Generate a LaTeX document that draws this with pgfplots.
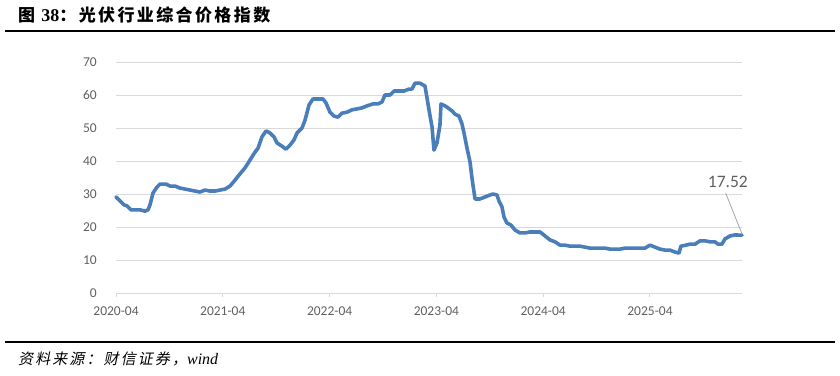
\documentclass[border=0pt]{standalone}
\usepackage{fontspec}
\usepackage{pgfplots}
\pgfplotsset{compat=1.18}
\setmainfont{Carlito}
\newfontfamily\titlefont{Noto Sans CJK SC}[LetterSpace=14]
\newfontfamily\srcfont{Noto Sans CJK SC}[FakeSlant=0.2, LetterSpace=14]
\newfontfamily\serif{Liberation Serif}
\definecolor{lineblue}{RGB}{74,126,187}
\definecolor{gridgrey}{RGB}{217,217,217}
\definecolor{ticktext}{RGB}{95,95,95}
\pgfplotstableread{
m v
0 29.1
0.45 27.9
0.9 26.7
1.24 26.4
1.69 25.2
2.70 25.2
3.26 24.8
3.60 25.2
3.82 26.7
4.16 30.3
4.61 32.1
4.94 33.0
5.62 33.0
6.07 32.4
6.63 32.4
7.19 31.8
8.31 31.2
9.44 30.6
10.0 31.2
10.56 30.9
11.12 30.9
11.69 31.2
12.25 31.5
12.81 32.4
13.37 34.2
13.93 36.1
14.49 37.9
15.06 40.3
15.62 42.7
15.96 43.9
16.40 47.3
16.85 49.1
17.30 48.5
17.75 47.3
18.09 45.5
18.65 44.5
19.10 43.6
19.55 44.8
20.0 46.4
20.34 48.5
20.90 50.0
21.24 52.4
21.69 57.0
22.13 58.8
22.58 58.8
23.26 58.8
23.60 57.6
24.04 54.8
24.49 53.6
24.94 53.3
25.39 54.5
25.96 54.8
26.52 55.5
27.08 55.8
27.64 56.1
28.20 56.7
28.88 57.3
29.44 57.3
29.89 57.9
30.22 60.0
30.79 60.0
31.24 61.2
31.80 61.2
32.36 61.2
32.92 61.8
33.26 61.8
33.60 63.6
34.16 63.6
34.72 62.7
35.17 55.5
35.51 50.3
35.73 43.3
36.07 45.5
36.40 50.9
36.52 57.3
36.97 56.7
37.30 56.1
37.75 55.2
38.09 54.2
38.54 53.6
38.88 51.2
39.10 48.5
39.44 43.9
39.78 39.7
40.0 34.8
40.34 28.5
40.90 28.5
41.46 29.1
42.02 29.7
42.36 30.0
42.81 29.7
43.03 27.9
43.37 26.1
43.60 23.0
43.93 21.2
44.38 20.6
44.83 19.1
45.39 18.2
45.96 18.2
46.52 18.5
47.64 18.5
48.20 17.3
48.76 16.1
49.33 15.5
49.89 14.5
50.45 14.5
51.01 14.2
52.13 14.2
53.26 13.6
54.94 13.6
55.51 13.3
56.63 13.3
57.19 13.6
59.44 13.6
60.0 14.5
60.56 13.9
61.12 13.3
61.69 13.0
62.25 13.0
62.81 12.4
63.26 12.1
63.48 14.2
64.04 14.5
64.49 14.8
65.06 14.8
65.62 15.8
66.18 15.8
66.74 15.5
67.30 15.5
67.64 14.8
68.09 14.8
68.43 16.4
69.0 17.3
69.55 17.6
70.34 17.52
}\pricedata
\begin{document}
\begin{tikzpicture}[x=1pt,y=1pt]
\useasboundingbox (0,0) rectangle (840,375);
\node[anchor=base west, inner sep=0] at (18,353) {\titlefont\bfseries\fontsize{17}{17}\selectfont 图 {\serif\bfseries\fontsize{18}{18}\selectfont 38}：光伏行业综合价格指数};
\draw[line width=1.5pt] (5,344) -- (835,344);
\draw[line width=1.5pt] (5,33) -- (835,33);
\node[anchor=base west, inner sep=0] at (18,11) {\srcfont\fontsize{15}{15}\selectfont 资料来源：财信证券，{\serif\itshape\fontsize{16}{16}\selectfont wind}};
\begin{axis}[
  at={(116pt,82pt)}, anchor=south west,
  scale only axis, width=626pt, height=231pt,
  xmin=0, xmax=70.34, ymin=0, ymax=70,
  clip=false,
  axis lines=left,
  axis line style={-},
  x axis line style={draw=gridgrey, line width=1pt},
  y axis line style={draw=none},
  ymajorgrids,
  major grid style={draw=gridgrey, line width=1pt},
  ytick={0,10,...,70},
  xtick={0,12,24,36,48,60},
  xticklabels={2020-04,2021-04,2022-04,2023-04,2024-04,2025-04},
  ytick style={draw=none},
  xtick style={draw=gridgrey, line width=1pt},
  tick align=outside,
  major tick length=4pt,
  /pgf/number format/assume math mode=true,
  yticklabel style={font=\fontsize{13.5}{13.5}\selectfont, text=ticktext, anchor=east, inner sep=0pt, xshift=-15pt},
  xticklabel style={font=\fontsize{13.5}{13.5}\selectfont, text=ticktext, anchor=north, inner sep=0pt, yshift=-10pt},
]
\addplot[lineblue, line width=3.6pt, line join=round, line cap=round] table[x=m, y=v] {\pricedata};
\draw[gray!70, line width=0.8pt] (axis cs:68.5,30.3) -- (axis cs:70.34,17.9);
\node[anchor=south, inner sep=0pt, text=ticktext, font=\fontsize{17.5}{17.5}\selectfont] at (axis cs:68.75,32.0) {17.52};
\end{axis}
\end{tikzpicture}
\end{document}
